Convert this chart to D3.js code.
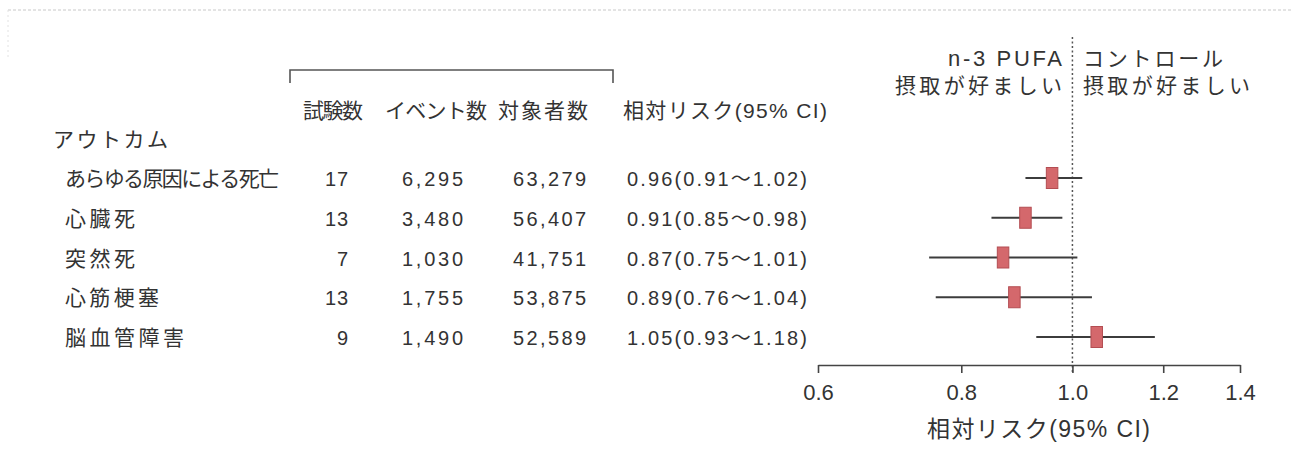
<!DOCTYPE html>
<html lang="ja">
<head>
<meta charset="utf-8">
<script src="https://cdn.jsdelivr.net/npm/d3@7"></script>
<style>
  html, body { margin: 0; padding: 0; background: #fff; }
  svg text { font-family: "Liberation Sans", "Noto Sans CJK JP", sans-serif; fill: #333; }
</style>
</head>
<body>
<svg id="chart" width="1291" height="459"></svg>
<script>
// Outcomes and their summary statistics
const outcomes = ["あらゆる原因による死亡", "心臓死", "突然死", "心筋梗塞", "脳血管障害"];
const trials = [17, 13, 7, 13, 9];
const events = [6295, 3480, 1030, 1755, 1490];
const participants = [63279, 56407, 41751, 53875, 52589];
const rr = [0.96, 0.91, 0.87, 0.89, 1.05];
const ciLow = [0.91, 0.85, 0.75, 0.76, 0.93];
const ciHigh = [1.02, 0.98, 1.01, 1.04, 1.18];
const axisTicks = [0.6, 0.8, 1.0, 1.2, 1.4];

const svg = d3.select("#chart");
const ink = "#333";

// faint page edge
svg.append("line").attr("x1", 8).attr("x2", 1291).attr("y1", 10).attr("y2", 10)
  .attr("stroke", "#c8c8c8").attr("stroke-width", 1).attr("stroke-dasharray", "3,2");
svg.append("line").attr("x1", 8).attr("x2", 8).attr("y1", 10).attr("y2", 60)
  .attr("stroke", "#e2e2e2").attr("stroke-width", 1).attr("stroke-dasharray", "2,3");

const x = d3.scaleLog().domain([0.6, 1.4]).range([818, 1240]);
const y = d3.scalePoint().domain(d3.range(outcomes.length)).range([178, 337]);

const fmt = d3.format(",");
const f2 = d3.format(".2f");

// text helper: width given -> tracked out to that width
function txt(t, xx, yy, opts) {
  opts = opts || {};
  const el = svg.append("text").attr("x", xx).attr("y", yy)
    .attr("text-anchor", opts.anchor || "start")
    .style("font-size", (opts.size || 20) + "px")
    .text(t);
  if (opts.width) el.attr("textLength", opts.width).attr("lengthAdjust", "spacing");
  return el;
}

// bracket above the count columns
svg.append("path")
  .attr("d", "M290,83 V70 H613 V83")
  .attr("fill", "none").attr("stroke", "#555").attr("stroke-width", 1.6);

// column headers
txt("試験数", 303, 118, { size: 21, width: 60 });
txt("イベント数", 385, 118, { size: 21, width: 102 });
txt("対象者数", 498, 118, { size: 21, width: 90 });
txt("相対リスク(95% CI)", 623, 118, { size: 21, width: 204 });
txt("アウトカム", 53, 147, { size: 21, width: 115 });

// direction labels either side of RR = 1
txt("n-3 PUFA", 1062, 66, { anchor: "end", size: 22, width: 114 });
txt("摂取が好ましい", 1062, 93, { anchor: "end", size: 21, width: 167 });
txt("コントロール", 1083, 66, { size: 21, width: 140 });
txt("摂取が好ましい", 1083, 93, { size: 21, width: 167 });

// table rows
const labelW = [214, 70, 70, 94, 119];
outcomes.forEach((o, i) => {
  const yy = y(i) + 8;
  txt(o, 65, yy, { size: 21, width: labelW[i] });
  const t = String(trials[i]);
  txt(t, 348, yy, { anchor: "end", width: t.length * 11.5 });
  const e = fmt(events[i]);
  txt(e, 463, yy, { anchor: "end", width: 61 });
  const p = fmt(participants[i]);
  txt(p, 586, yy, { anchor: "end", width: 73 });
  txt(`${f2(rr[i])}(${f2(ciLow[i])}〜${f2(ciHigh[i])})`, 627, yy, { width: 180 });
});

// reference line at RR = 1
svg.append("line")
  .attr("x1", x(1)).attr("x2", x(1)).attr("y1", 37).attr("y2", 374)
  .attr("stroke", "#555").attr("stroke-width", 1.5).attr("stroke-dasharray", "2,2.5");

// confidence intervals
svg.append("g").selectAll("line").data(outcomes).join("line")
  .attr("x1", (d, i) => x(ciLow[i])).attr("x2", (d, i) => x(ciHigh[i]))
  .attr("y1", (d, i) => y(i)).attr("y2", (d, i) => y(i))
  .attr("stroke", "#3c3c3c").attr("stroke-width", 2);

// point estimates
const bw = 11.5, bh = 21;
svg.append("g").selectAll("rect").data(outcomes).join("rect")
  .attr("x", (d, i) => x(rr[i]) - bw / 2).attr("y", (d, i) => y(i) - bh / 2)
  .attr("width", bw).attr("height", bh)
  .attr("fill", "#d4686c").attr("stroke", "#b34d52").attr("stroke-width", 1);

// x axis (log scale)
const axis = d3.axisBottom(x).tickValues(axisTicks).tickFormat(d3.format(".1f"))
  .tickSize(8).tickSizeOuter(0);
const ax = svg.append("g").attr("transform", "translate(0,365)").call(axis);
ax.select(".domain").attr("stroke", "#444").attr("stroke-width", 1.6);
ax.selectAll(".tick line").attr("stroke", "#444").attr("stroke-width", 1.6);
ax.selectAll(".tick text")
  .style("font-size", "22px")
  .style("font-family", "'Liberation Sans', sans-serif")
  .attr("fill", ink).attr("y", 35).attr("dy", null);

txt("相対リスク(95% CI)", 927, 437, { size: 23, width: 223 });
</script>
</body>
</html>
